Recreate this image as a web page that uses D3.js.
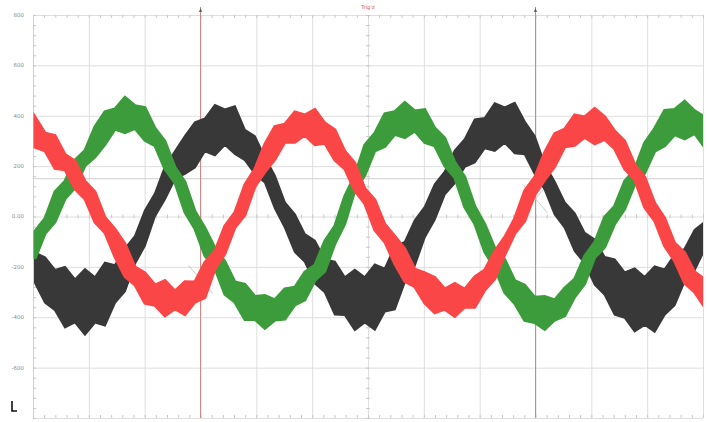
<!DOCTYPE html>
<html>
<head>
<meta charset="utf-8">
<script src="https://cdn.jsdelivr.net/npm/d3@7"></script>
<style>
  body { margin: 0; background: #fff; }
  svg { display: block; font-family: "DejaVu Sans", sans-serif; }
</style>
</head>
<body>
<div id="scope"></div>
<script>
// DATA //
// vertical axis (volts), one major line every 200 V
const voltTicks = [800, 600, 400, 200, 0, -200, -400, -600, -800]
const voltLabels = ["800", "600", "400", "200", "0.00", "-200", "-400", "-600", ""]

// time axis in scope divisions (12 across)
const divisions = d3.range(0, 13)
const cursorTimes = [3, 9]
const levelCursors = [150]
const traceLabel = "Trig'd"

// sample times: one sample every 0.179 div, starting at 0.036 div
const sampleStart = 0.036
const sampleStep = 0.179

// phase voltages (centre of each band, volts)
const phaseRed = [
  335, 296, 256, 216, 165, 105, 38, -34, -105, -173,
  -236, -284, -312, -324, -331, -324, -300, -252, -173, -93,
  -14, 66, 153, 232, 292, 331, 355, 363, 355, 331,
  284, 224, 157, 81, 6, -66, -133, -193, -244, -284,
  -312, -328, -331, -324, -300, -252, -193, -117, -38, 42,
  121, 200, 264, 312, 343, 355, 359, 351, 304, 244,
  177, 97, 18, -62, -141, -204, -260, -304
]
const phaseGreen = [
  -113, -38, 38, 105, 169, 232, 296, 351, 387, 403,
  395, 367, 316, 244, 165, 77, -14, -101, -165, -244,
  -300, -339, -363, -379, -371, -347, -316, -276, -224, -157,
  -73, 26, 133, 224, 296, 343, 371, 383, 379, 359,
  316, 256, 185, 97, 6, -85, -165, -236, -300, -343,
  -371, -383, -371, -339, -284, -212, -133, -62, 6, 85,
  157, 232, 304, 351, 375, 383, 375, 335
]
const phaseBlack = [
  -204, -252, -292, -320, -335, -339, -331, -308, -268, -212,
  -133, -46, 46, 133, 204, 244, 284, 324, 343, 355,
  343, 284, 244, 185, 97, 6, -66, -125, -181, -236,
  -284, -316, -331, -331, -320, -292, -244, -181, -105, -22,
  58, 133, 197, 252, 300, 331, 355, 363, 351, 312,
  244, 157, 73, 6, -62, -125, -181, -236, -280, -312,
  -331, -335, -328, -300, -252, -193, -133, -77
]

// ripple half-height around each centre (volts)
const rippleRed = [
  60, 35, 65, 30, 55, 35, 60, 30, 55, 65,
  35, 60, 40, 70, 35, 65, 40, 70, 35, 55,
  30, 60, 35, 55, 65, 35, 60, 40, 70, 40,
  60, 35, 55, 30, 60, 35, 55, 65, 35, 60,
  70, 40, 65, 35, 60, 40, 55, 35, 30, 60,
  35, 55, 65, 35, 60, 40, 70, 45, 35, 55,
  30, 60, 35, 55, 35, 60, 40, 55
]
const rippleGreen = [
  55, 30, 60, 35, 55, 30, 60, 65, 40, 70,
  45, 65, 35, 55, 30, 60, 35, 55, 40, 65,
  40, 70, 45, 65, 40, 60, 35, 55, 30, 60,
  35, 55, 30, 60, 35, 65, 45, 70, 40, 65,
  35, 55, 30, 60, 35, 55, 40, 65, 45, 70,
  50, 65, 40, 55, 35, 55, 30, 60, 35, 55,
  30, 60, 45, 70, 50, 75, 45, 60
]
const rippleBlack = [
  60, 90, 80, 120, 85, 130, 90, 125, 75, 85,
  55, 70, 45, 65, 55, 75, 90, 65, 100, 70,
  95, 60, 75, 50, 65, 50, 75, 55, 85, 65,
  105, 75, 120, 90, 130, 85, 125, 80, 90, 60,
  70, 45, 65, 55, 85, 60, 95, 70, 100, 65,
  75, 50, 65, 50, 75, 60, 90, 75, 110, 90,
  125, 95, 130, 90, 100, 65, 80, 55
]

// cross-shaped cursor marks (time div, volts)
const crossMarks = [[3.0, -250], [9.0, 70]]

// DIMENSIONS //
let dimensions = {
    width: 707,
    height: 422,
    margin: {
        top: 15,
        right: 4,
        bottom: 4,
        left: 33,
    },
}
dimensions.boundedWidth = dimensions.width - dimensions.margin.left - dimensions.margin.right
dimensions.boundedHeight = dimensions.height - dimensions.margin.top - dimensions.margin.bottom

const xScale = d3.scaleLinear()
    .domain([0, 12])
    .range([0, dimensions.boundedWidth])

const yScale = d3.scaleLinear()
    .domain([-800, 800])
    .range([dimensions.boundedHeight, 0])

const sampleTimes = phaseRed.map((d, i) => sampleStart + i * sampleStep)

const wrapper = d3.select("#scope")
    .append("svg")
    .attr("width", dimensions.width)
    .attr("height", dimensions.height)

const bounds = wrapper.append("g")
    .attr("transform", `translate(${dimensions.margin.left},${dimensions.margin.top})`)

bounds.append("clipPath")
    .attr("id", "plot-clip")
    .append("rect")
    .attr("width", dimensions.boundedWidth)
    .attr("height", dimensions.boundedHeight)

// GRID //
const gridColor = "#dedede"

const yGrid = d3.axisLeft(yScale)
    .tickValues(voltTicks)
    .tickSize(-dimensions.boundedWidth)
    .tickFormat("")
bounds.append("g").call(yGrid)
    .call(g => g.select(".domain").remove())
    .call(g => g.selectAll("line").attr("stroke", gridColor))

const xGrid = d3.axisBottom(xScale)
    .tickValues(divisions)
    .tickSize(dimensions.boundedHeight)
    .tickFormat("")
bounds.append("g").call(xGrid)
    .call(g => g.select(".domain").remove())
    .call(g => g.selectAll("line").attr("stroke", gridColor))

// horizontal level cursor
bounds.selectAll(".level")
    .data(levelCursors)
    .join("line")
    .attr("class", "level")
    .attr("x1", 0)
    .attr("x2", dimensions.boundedWidth)
    .attr("y1", d => yScale(d))
    .attr("y2", d => yScale(d))
    .attr("stroke", "#cfcfcf")

// minor ticks: 5 per division on the frame and on the centre axes
const minorX = d3.range(0, 12.01, 0.2)
const minorY = d3.range(-800, 801, 40)
const tickColor = "#c8c8c8"

bounds.append("g").call(d3.axisBottom(xScale).tickValues(minorX).tickSize(3).tickFormat(""))
    .call(g => g.select(".domain").remove())
    .call(g => g.selectAll("line").attr("stroke", tickColor))
bounds.append("g")
    .attr("transform", `translate(0,${dimensions.boundedHeight})`)
    .call(d3.axisTop(xScale).tickValues(minorX).tickSize(3).tickFormat(""))
    .call(g => g.select(".domain").remove())
    .call(g => g.selectAll("line").attr("stroke", tickColor))
bounds.append("g").call(d3.axisRight(yScale).tickValues(minorY).tickSize(3).tickFormat(""))
    .call(g => g.select(".domain").attr("stroke", "#d0d0d0"))
    .call(g => g.selectAll("line").attr("stroke", tickColor))
bounds.append("g")
    .attr("transform", `translate(${xScale(6) - 2},0)`)
    .call(d3.axisRight(yScale).tickValues(minorY).tickSize(4).tickFormat(""))
    .call(g => g.select(".domain").remove())
    .call(g => g.selectAll("line").attr("stroke", tickColor))
bounds.append("g")
    .attr("transform", `translate(0,${yScale(0) - 2})`)
    .call(d3.axisBottom(xScale).tickValues(minorX).tickSize(4).tickFormat(""))
    .call(g => g.select(".domain").remove())
    .call(g => g.selectAll("line").attr("stroke", tickColor))

// volt labels on the left
wrapper.append("g")
    .selectAll("text")
    .data(voltTicks)
    .join("text")
    .attr("x", dimensions.margin.left - 9)
    .attr("y", d => dimensions.margin.top + yScale(d))
    .attr("dy", "0.35em")
    .attr("text-anchor", "end")
    .attr("fill", "#8a8a8a")
    .style("font-size", "5.5px")
    .text((d, i) => voltLabels[i])

// CURSORS //
bounds.selectAll(".cursor")
    .data(cursorTimes)
    .join("line")
    .attr("class", "cursor")
    .attr("x1", d => xScale(d))
    .attr("x2", d => xScale(d))
    .attr("y1", -8)
    .attr("y2", dimensions.boundedHeight)
    .attr("stroke", "#c98a8a")
    .attr("stroke-width", 1)

bounds.selectAll(".cursor-mark")
    .data(cursorTimes)
    .join("path")
    .attr("class", "cursor-mark")
    .attr("d", d => `M${xScale(d) - 1.5},-3 L${xScale(d)},-7 L${xScale(d) + 1.5},-3 Z`)
    .attr("fill", "#555")

bounds.append("text")
    .attr("x", xScale(6))
    .attr("y", -6)
    .attr("text-anchor", "middle")
    .attr("fill", "#d05050")
    .style("font-size", "5px")
    .text(traceLabel)

// faint X marks where the cursors sit
const crossG = bounds.append("g").attr("stroke", "#bdbdbd").attr("stroke-width", 0.8)
crossMarks.forEach(([t, v]) => {
    const cx = xScale(t), cy = yScale(v)
    crossG.append("line").attr("x1", cx - 12).attr("y1", cy - 14).attr("x2", cx + 12).attr("y2", cy + 14)
    crossG.append("line").attr("x1", cx - 12).attr("y1", cy + 14).attr("x2", cx + 12).attr("y2", cy - 14)
})

// TRACES //
const traces = [
    { values: phaseBlack, ripple: rippleBlack, color: "#383838", edge: 2 },
    { values: phaseGreen, ripple: rippleGreen, color: "#3c9c3c", edge: 3 },
    { values: phaseRed, ripple: rippleRed, color: "#fa4646", edge: 3 },
]

const bandArea = (ripple) => d3.area()
    .x((d, i) => xScale(sampleTimes[i]))
    .y0((d, i) => yScale(d - ripple[i]))
    .y1((d, i) => yScale(d + ripple[i]))

bounds.append("g")
    .attr("clip-path", "url(#plot-clip)")
    .selectAll("path")
    .data(traces)
    .join("path")
    .attr("d", d => bandArea(d.ripple)(d.values))
    .attr("fill", d => d.color)
    .attr("stroke", d => d.color)
    .attr("stroke-width", d => d.edge)
    .attr("stroke-linejoin", "miter")

// ground marker bottom left
wrapper.append("path")
    .attr("d", "M12,401 V411 H17")
    .attr("fill", "none")
    .attr("stroke", "#111")
    .attr("stroke-width", 1.6)
</script>
</body>
</html>
